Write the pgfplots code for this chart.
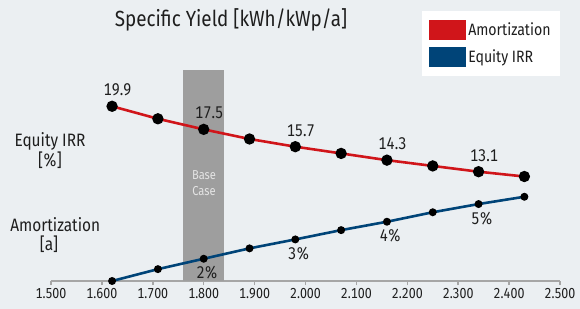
\documentclass[border=0pt]{standalone}
\usepackage{pgfplots}
\pgfplotsset{compat=1.18}
\usepackage{fontspec}
\setmainfont{Fira Sans}[FakeStretch=0.86, Numbers=Monospaced]
\definecolor{bg}{RGB}{235,239,242}
\definecolor{amred}{RGB}{208,21,26}
\definecolor{irrblue}{RGB}{0,68,120}
\definecolor{basegray}{RGB}{158,158,158}
\definecolor{axgray}{RGB}{166,166,166}
\definecolor{txt}{RGB}{30,30,30}
\definecolor{basetxt}{RGB}{228,228,228}
\newcommand\fs[1]{\fontsize{#1}{#1}\selectfont}

\begin{document}
\begin{tikzpicture}[every node/.style={text=txt}]
\fill[bg] (-51bp,-28bp) rectangle (529bp,281bp);
\useasboundingbox (-51bp,-28bp) rectangle (529bp,281bp);
% red axis (Amortization, years)
\begin{axis}[at={(0,0)}, anchor=south west, scale only axis,
  width=509bp, height=221bp,
  xmin=1.5, xmax=2.5, ymin=1.74, ymax=24.71,
  axis x line*=bottom, axis y line=none,
  axis line style={-, axgray, line width=2.6bp},
  xtick={1.5,1.6,1.7,1.8,1.9,2.0,2.1,2.2,2.3,2.4,2.5},
  xticklabels={1.500,1.600,1.700,1.800,1.900,2.000,2.100,2.200,2.300,2.400,2.500},
  tick align=outside, major tick length=4bp,
  tick style={axgray, line width=1.5bp},
  xticklabel style={font=\fs{14.5}, text=txt},
  clip=false]
\addplot[fill=basegray, draw=none] coordinates {(1.76,1.74) (1.76,23.67) (1.84,23.67) (1.84,1.74)} -- cycle;
\addplot[amred, line width=2.6bp, mark=*, mark size=4.3bp, mark options={fill=black, draw=black}] coordinates {
(1.62,19.9) (1.71,18.6) (1.80,17.5) (1.89,16.5) (1.98,15.7)
(2.07,15.0) (2.16,14.3) (2.25,13.7) (2.34,13.1) (2.43,12.6)};
\begin{scope}[every node/.style={anchor=base, xshift=5.5bp, yshift=10.5bp, font=\fs{17}, text=txt}]
\node at (axis cs:1.62,19.9) {19.9};
\node at (axis cs:1.80,17.5) {17.5};
\node at (axis cs:1.98,15.7) {15.7};
\node at (axis cs:2.16,14.3) {14.3};
\node at (axis cs:2.34,13.1) {13.1};
\end{scope}
\end{axis}
% blue axis (Equity IRR, %)
\begin{axis}[at={(0,0)}, anchor=south west, scale only axis,
  width=509bp, height=221bp,
  xmin=1.5, xmax=2.5, ymin=0.78, ymax=12.90,
  hide axis, clip=false,
  legend cell align=left,
  legend style={at={(0.729,1.224)}, anchor=north west, draw=none, fill=white,
    font=\fs{16.5}, inner xsep=7bp, inner ysep=9bp, row sep=7bp,
    /tikz/every even column/.append style={column sep=4bp}},
  legend image code/.code={\fill[#1] (0bp,-10bp) rectangle (37bp,10bp);}]
\addlegendimage{fill=amred, draw=none}
\addlegendentry{Amortization}
\addlegendimage{fill=irrblue, draw=none}
\addlegendentry{Equity IRR}
\addplot[forget plot, irrblue, line width=2.6bp, mark=*, mark size=2.6bp, mark options={fill=black, draw=black}] coordinates {
(1.62,0.78) (1.71,1.43) (1.80,2.00) (1.89,2.57) (1.98,3.06)
(2.07,3.57) (2.16,4.03) (2.25,4.55) (2.34,5.00) (2.43,5.40)};
\begin{scope}[every node/.style={anchor=base, xshift=3.5bp, yshift=-20bp, font=\fs{17}, text=txt}]
\node at (axis cs:1.80,2.00) {2\%};
\node at (axis cs:1.98,3.06) {3\%};
\node at (axis cs:2.16,4.03) {4\%};
\node at (axis cs:2.34,5.00) {5\%};
\end{scope}
\end{axis}
% texts
\node[anchor=base, font=\fs{22}] at (180bp,254.3bp) {Specific Yield [kWh/kWp/a]};
\node[anchor=base, font=\fs{18}] at (-1bp,134bp) {Equity IRR};
\node[anchor=base, font=\fs{18}] at (-1bp,114bp) {[\%]};
\node[anchor=base, font=\fs{18}] at (4.3bp,49bp) {Amortization};
\node[anchor=base, font=\fs{18}] at (-2bp,31bp) {[a]};
\node[anchor=base, font=\fs{13}, text=basetxt] at (153bp,101.7bp) {Base};
\node[anchor=base, font=\fs{13}, text=basetxt] at (153bp,85.3bp) {Case};
\end{tikzpicture}
\end{document}
